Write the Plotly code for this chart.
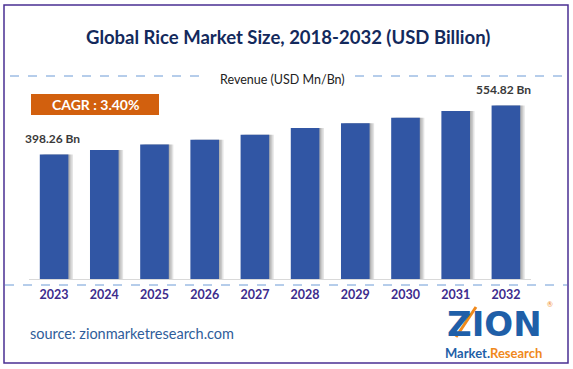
import plotly.graph_objects as go

# ---- data ----
years = ["2023", "2024", "2025", "2026", "2027", "2028", "2029", "2030", "2031", "2032"]
revenue = [398.26, 412.3, 429.8, 444.9, 461.4, 482.5, 497.6, 515.1, 537.3, 554.82]
value_labels = ["398.26 Bn", "", "", "", "", "", "", "", "", "554.82 Bn"]
title_text = "Global Rice Market Size, 2018-2032 (USD Billion)"
legend_text = "Revenue (USD Mn/Bn)"
cagr_text = "CAGR : 3.40%"
source_text = "source: zionmarketresearch.com"

W, H = 573, 369
L, R, T, B = 29, 531, 80, 279  # plot area in pixels


def px(X):
    return (X - L) / (R - L)


def py(Y):
    return (B - Y) / (B - T)


FONT = "Lato"
BAR = "#3156A4"
BW = 0.57

fig = go.Figure()

# soft shadow layers to the right of each bar
for k in (0.03, 0.06, 0.09):
    fig.add_trace(go.Bar(
        x=years, y=revenue, width=BW, offset=-BW / 2 + k,
        marker=dict(color="rgba(0,0,0,0.11)", line=dict(width=0)),
        hoverinfo="skip", showlegend=False))

fig.add_trace(go.Bar(
    x=years, y=revenue, width=BW, offset=-BW / 2,
    marker=dict(color=BAR, line=dict(width=0)),
    hoverinfo="skip", showlegend=False))

annotations = []
for i, (v, lab) in enumerate(zip(revenue, value_labels)):
    if lab:
        annotations.append(dict(
            x=i, y=v, xref="x", yref="y", text=f"<b>{lab}</b>", showarrow=False,
            xanchor="center", yanchor="bottom", yshift=6, xshift=-2,
            font=dict(family=FONT, size=12, color="#3a3a3a")))

annotations += [
    dict(x=px(288), y=py(37), xref="paper", yref="paper", text=f"<b>{title_text}</b>",
         showarrow=False, xanchor="center", yanchor="middle",
         font=dict(family=FONT, size=18.5, color="#13295C")),
    dict(x=px(282), y=py(79), xref="paper", yref="paper", text=legend_text,
         showarrow=False, xanchor="center", yanchor="middle",
         font=dict(family=FONT, size=12.5, color="#222222")),
    dict(x=px(95), y=py(104.5), xref="paper", yref="paper", text=f"<b>{cagr_text}</b>",
         showarrow=False, xanchor="center", yanchor="middle",
         font=dict(family=FONT, size=14, color="white")),
    dict(x=px(28), y=py(333), xref="paper", yref="paper", text=source_text,
         showarrow=False, xanchor="left", yanchor="middle",
         font=dict(family=FONT, size=14.5, color="#2F5D9A")),
    # logo as text
    dict(x=px(494), y=py(324), xref="paper", yref="paper",
         text="<b>ZION</b>",
         showarrow=False, xanchor="center", yanchor="middle",
         font=dict(family="DejaVu Sans", size=34, color="#1F5FA8")),
    dict(x=px(493), y=py(353), xref="paper", yref="paper",
         text="<b>Market.<span style='color:#F0891C'>Research</span></b>",
         showarrow=False, xanchor="center", yanchor="middle",
         font=dict(family=FONT, size=13, color="#1F5FA8")),
    dict(x=px(550), y=py(304), xref="paper", yref="paper", text="®",
         showarrow=False, xanchor="center", yanchor="middle",
         font=dict(family=FONT, size=7, color="#F0891C")),
]

shapes = [
    # outer border
    dict(type="rect", xref="paper", yref="paper", x0=px(4), x1=px(568), y0=py(363), y1=py(5),
         line=dict(color="#4A2F92", width=1.5), fillcolor="rgba(0,0,0,0)", layer="below"),
    # dashed lines near legend label
    dict(type="line", xref="paper", yref="paper", x0=px(10), x1=px(204), y0=py(76), y1=py(76),
         line=dict(color="#6C9BD6", width=1, dash="dash")),
    dict(type="line", xref="paper", yref="paper", x0=px(355), x1=px(564), y0=py(76), y1=py(76),
         line=dict(color="#6C9BD6", width=1, dash="dash")),
    # dashed line under axis
    dict(type="line", xref="paper", yref="paper", x0=px(5), x1=px(567), y0=py(285), y1=py(285),
         line=dict(color="#6C9BD6", width=1, dash="dash")),
    # CAGR box
    dict(type="rect", xref="paper", yref="paper", x0=px(31), x1=px(159), y0=py(115), y1=py(94),
         line=dict(width=0), fillcolor="#D2600E"),
    # logo arrow
    dict(type="line", xref="paper", yref="paper", x0=px(456), x1=px(476), y0=py(337), y1=py(307),
         line=dict(color="#F0891C", width=3)),
]

fig.update_layout(
    width=W, height=H,
    margin=dict(l=L, r=W - R, t=T, b=H - B, pad=0),
    paper_bgcolor="white", plot_bgcolor="white",
    barmode="overlay",
    showlegend=False,
    xaxis=dict(type="category", range=[-0.5, 9.5], showgrid=False, zeroline=False,
               showline=True, linecolor="#D9D9D9", linewidth=1, ticks="",
               ticklabelstandoff=4,
               tickfont=dict(family=FONT, size=12.5, color="#3D2C8D", weight="bold"),
               fixedrange=True),
    yaxis=dict(range=[0, 636], visible=False, showgrid=False, zeroline=False, fixedrange=True),
    annotations=annotations,
    shapes=shapes,
)

fig.write_html("out.html", config={"displayModeBar": False},
               post_script="document.body.style.margin='0';")
